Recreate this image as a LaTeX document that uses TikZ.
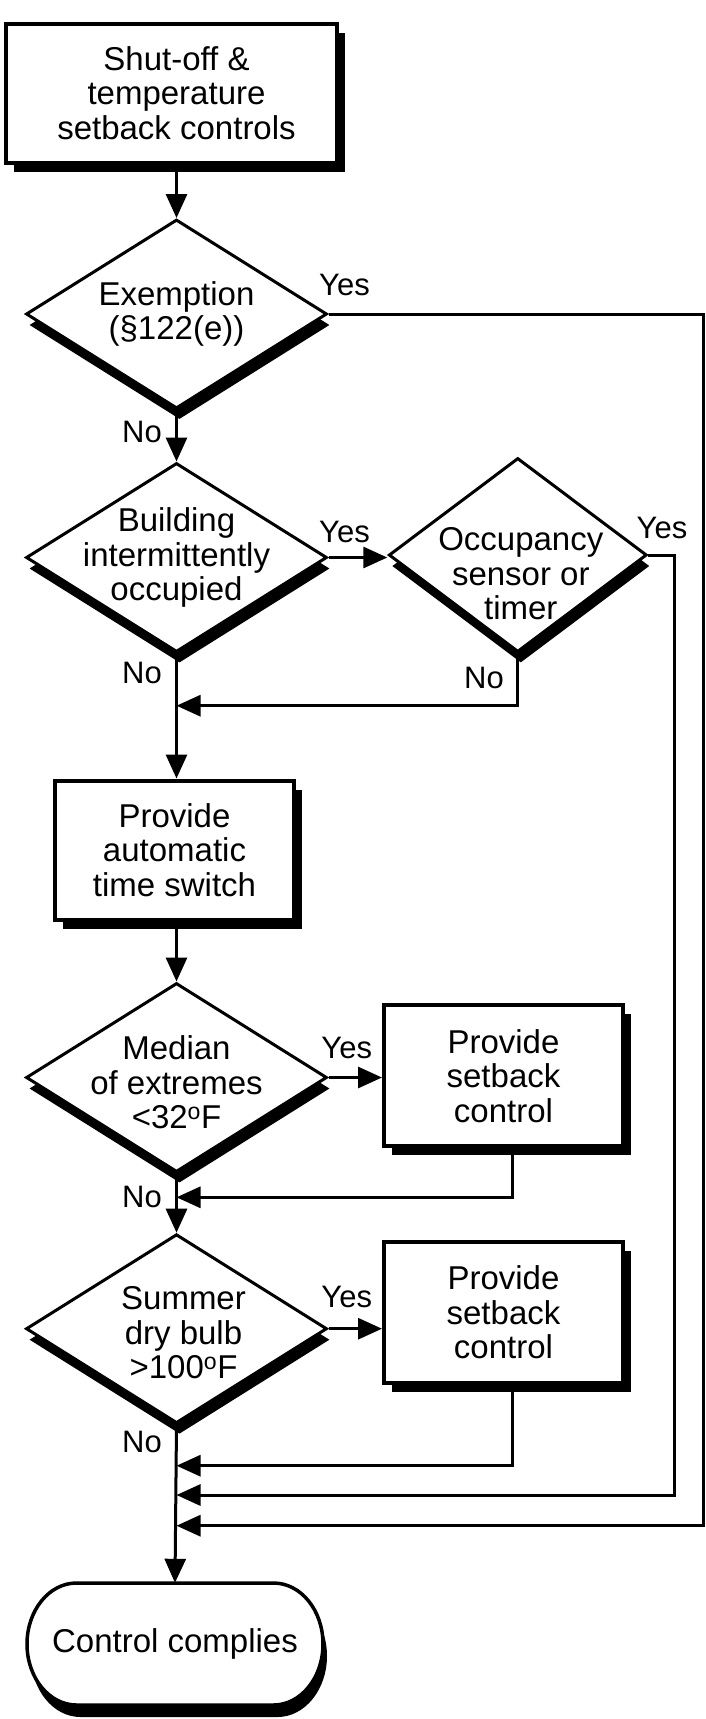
\documentclass[tikz,border=0pt]{standalone}
\usepackage{fontspec}
\setmainfont{Liberation Sans}
\usetikzlibrary{arrows.meta,shapes.geometric,shadows}
\begin{document}
\begin{tikzpicture}[x=1pt,y=-1pt,
  font=\fontsize{33}{34.5}\selectfont,
  txt/.style={align=center,inner sep=0pt},
  lab/.style={inner sep=0pt,font=\fontsize{31}{33}\selectfont},
  box/.style={draw,line width=4pt,fill=white,rectangle,minimum width=#1,minimum height=139pt,inner sep=0pt,
    drop shadow={shadow xshift=8pt,shadow yshift=-9pt,fill=black,opacity=1}},
  dec/.style={draw,line width=3pt,fill=white,diamond,inner sep=0pt,minimum width=301pt,minimum height=189pt,
    drop shadow={shadow xshift=3pt,shadow yshift=-11pt,fill=black,opacity=1}},
  conn/.style={line width=3pt,-{Triangle[length=24pt,width=21pt]}},
]
\useasboundingbox (0,0) rectangle (706,1719);

% shapes
\node[box=331pt, label={[txt,xshift=5.5pt]center:{Shut-off \&\\temperature\\setback controls}}] (b1) at (171,93) {};
\node[dec, label={[txt]center:{Exemption\\(§122(e))}}] (d1) at (176.5,314) {};
\node[dec, label={[txt]center:{Building\\intermittently\\occupied}}] (d2) at (176.5,557.5) {};
\node[dec, minimum width=258pt, minimum height=194pt, label={[txt,xshift=3pt,yshift=-19pt]center:{Occupancy\\sensor or\\timer}}] (d3) at (517.8,555) {};
\node[box=239pt, label={[txt]center:{Provide\\automatic\\time switch}}] (b2) at (174.5,850) {};
\node[dec, label={[txt,yshift=-5pt]center:{Median\\of extremes\\<32\textsuperscript{o}F}}] (d4) at (176.5,1077.5) {};
\node[box=239pt, minimum height=141pt, label={[txt]center:{Provide\\setback\\control}}] (b3) at (503.5,1075.8) {};
\node[dec, label={[txt,xshift=7pt,yshift=-4pt]center:{Summer\\dry bulb\\>100\textsuperscript{o}F}}] (d5) at (176.5,1328.7) {};
\node[box=239pt, minimum height=141pt, label={[txt]center:{Provide\\setback\\control}}] (b4) at (503.5,1312.5) {};

% terminal
\path[fill=black, shift={(4,12)}] (76.5,1583) -- (273.5,1583) arc[start angle=90,end angle=-90,x radius=49.5pt,y radius=61pt] -- (76.5,1705) arc[start angle=270,end angle=90,x radius=49.5pt,y radius=61pt] -- cycle;
\path[draw, fill=white, line width=3.5pt] (76.5,1583) -- (273.5,1583) arc[start angle=90,end angle=-90,x radius=49.5pt,y radius=61pt] -- (76.5,1705) arc[start angle=270,end angle=90,x radius=49.5pt,y radius=61pt] -- cycle;
\node[txt, minimum width=296pt, minimum height=122pt] (t) at (175,1644) {Control complies};

% merge points
\coordinate (m0) at (176.5,705.7);
\coordinate (m1) at (176.5,1197.3);
\coordinate (m2) at (176.5,1465.7);
\coordinate (m3) at (176.5,1495);
\coordinate (m4) at (176.5,1525.7);
\coordinate (c3) at (674,1495);
\coordinate (c1) at (703,1525.7);

% connectors
\draw[conn] (b1.south -| d1.north) -- (d1.north);
\draw[conn] (d1.south) -- (d2.north);
\draw[conn] (d2.east) -- (d2.east -| d3.west);
\draw[conn] (d2.south) -- (d2.south |- b2.north);
\draw[conn] (d3.south) |- (m0);
\draw[conn] (b2.south -| d4.north) -- (d4.north);
\draw[conn] (d4.east) -- (d4.east -| b3.west);
\draw[conn] ([xshift=9pt]b3.south) |- (m1);
\draw[conn] (d4.south) -- (d5.north);
\draw[conn] (d5.east) -- (d5.east -| b4.west);
\draw[conn] ([xshift=9pt]b4.south) |- (m2);
\draw[conn] (d3.east) -| (c3) -- (m3);
\draw[conn] (d1.east) -| (c1) -- (m4);
\draw[conn] (d5.south) -- (t.north);

% labels
\node[lab] (y1) at (344.5,285) {Yes};
\node[lab] (n1) at (142,432) {No};
\node[lab] (y2) at (344.5,531.7) {Yes};
\node[lab] (y3) at (662,528) {Yes};
\node[lab] (n2) at (142,673) {No};
\node[lab] (n3) at (484,678) {No};
\node[lab] (y4) at (346.7,1048) {Yes};
\node[lab] (n4) at (142,1197.3) {No};
\node[lab] (y5) at (346.7,1296.7) {Yes};
\node[lab] (n5) at (142,1441.7) {No};
\end{tikzpicture}
\end{document}
